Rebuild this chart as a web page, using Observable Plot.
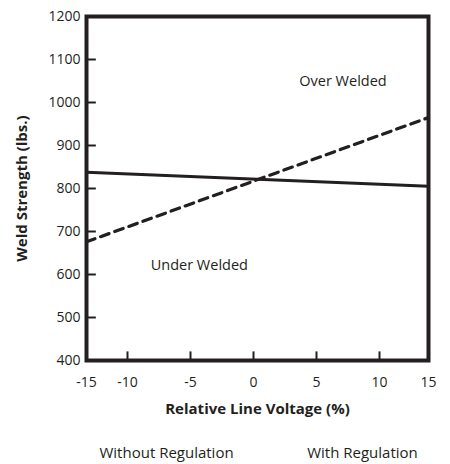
<!DOCTYPE html>
<html>
<head>
<meta charset="utf-8">
<script src="https://cdn.jsdelivr.net/npm/d3@7"></script>
<script src="https://cdn.jsdelivr.net/npm/@observablehq/plot@0.6"></script>
<style>
  body { margin: 0; background: #fff; }
</style>
</head>
<body>
<div id="chart"></div>
<script>
// Data
const xTicks = [-15, -10, -5, 0, 5, 10, 15];
const yTicks = [400, 500, 600, 700, 800, 900, 1000, 1100, 1200];
const innerXTicks = [-10, -5, 0, 5, 10];
const innerYTicks = [500, 600, 700, 800, 900, 1000, 1100];
const voltage = [-15, 15];
const withoutRegulation = [676, 965];
const withRegulation = [838, 805];
const regionLabels = ["Over Welded", "Under Welded"];
const regionX = [7.1, -4.3];
const regionY = [1049, 621];
const seriesLabels = ["Without Regulation", "With Regulation"];
const seriesLabelX = [-6.9, 8.65];

const ink = "#231f20";
// The original chart's x axis is drawn piecewise: the outer intervals are narrower.
const warp = d3.scaleLinear().domain([-15, -10, 10, 15]).range([0, 41, 293, 342]);

const dashed = voltage.map((v, i) => ({x: v, y: withoutRegulation[i]}));
const solid = voltage.map((v, i) => ({x: v, y: withRegulation[i]}));
const regions = regionLabels.map((t, i) => ({t, x: regionX[i], y: regionY[i]}));
const legends = seriesLabels.map((t, i) => ({t, x: seriesLabelX[i]}));

const chart = Plot.plot({
  width: 450,
  height: 464,
  marginTop: 16,
  marginBottom: 104,
  marginLeft: 86,
  marginRight: 22,
  style: {fontFamily: "'Open Sans', sans-serif", color: ink, background: "#fff"},
  x: {transform: warp, axis: null},
  y: {domain: [400, 1200], axis: null},
  marks: [
    Plot.text(xTicks, {x: d => d, frameAnchor: "bottom", dy: 26, text: d => String(d), fontSize: 14, fill: ink}),
    Plot.axisY({ticks: yTicks, tickSize: 0, tickPadding: 6, fontSize: 14, label: null, fill: ink, tickFormat: d => String(d)}),
    Plot.ruleX(innerXTicks, {y1: 400, y2: 420, stroke: ink, strokeWidth: 2}),
    Plot.ruleY(innerYTicks, {x1: -15, x2: -13.8, stroke: ink, strokeWidth: 2}),
    Plot.line(solid, {x: "x", y: "y", stroke: ink, strokeWidth: 3}),
    Plot.line(dashed, {x: "x", y: "y", stroke: ink, strokeWidth: 3.2, strokeDasharray: "9,6"}),
    Plot.frame({stroke: ink, strokeWidth: 4}),
    Plot.text(regions, {x: "x", y: "y", text: "t", fontSize: 14.5, fill: ink}),
    Plot.text(["Relative Line Voltage (%)"], {frameAnchor: "bottom", dy: 53, fontSize: 15, fontWeight: "bold", fill: ink}),
    Plot.text(["Weld Strength (lbs.)"], {frameAnchor: "left", textAnchor: "middle", dx: -64, rotate: -90, fontSize: 15, fontWeight: "bold", fill: ink}),
    Plot.text(legends, {x: "x", frameAnchor: "bottom", dy: 97, text: "t", fontSize: 15, fill: ink})
  ]
});
document.getElementById("chart").appendChild(chart);
</script>
</body>
</html>
